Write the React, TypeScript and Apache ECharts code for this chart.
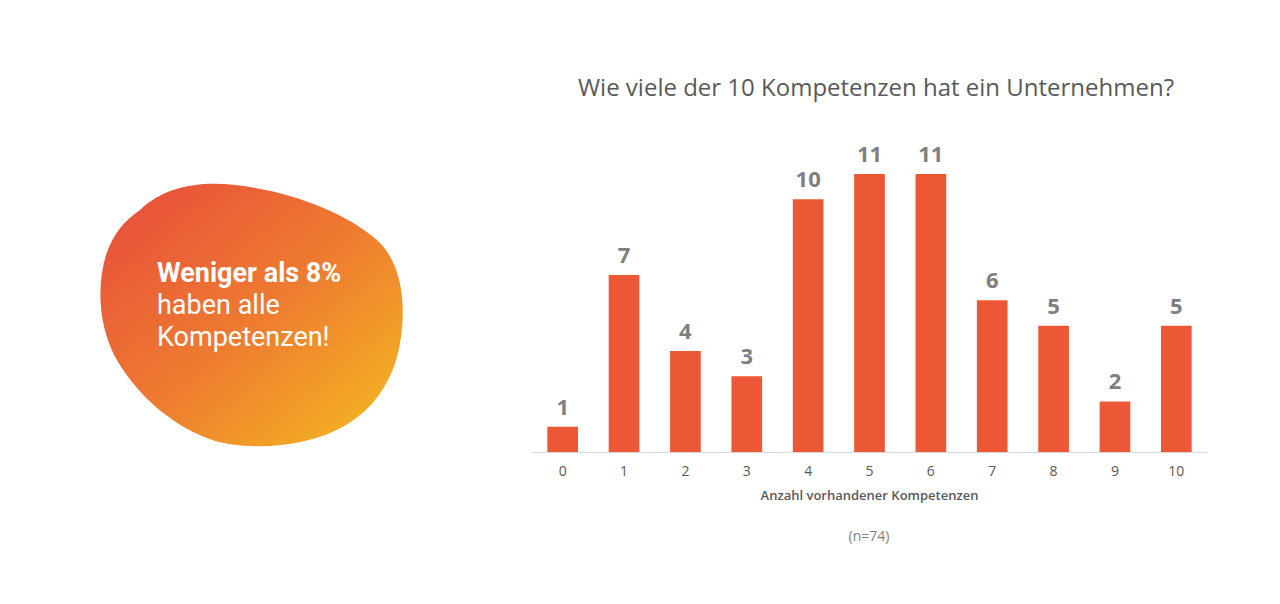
import React, { useEffect, useRef } from "react";
import * as echarts from "echarts";

const categories = ["0", "1", "2", "3", "4", "5", "6", "7", "8", "9", "10"];
const counts = [1, 7, 4, 3, 10, 11, 11, 6, 5, 2, 5];
const titleText = "Wie viele der 10 Kompetenzen hat ein Unternehmen?";
const axisName = "Anzahl vorhandener Kompetenzen";
const sampleNote = "(n=74)";
const blobLines = ["Weniger als 8%", "haben alle", "Kompetenzen!"];

const BLOB_D =
  "M 140 210 C 165 186 200 181 235 185 C 290 191 345 212 377 240 C 401 262 406 300 401 337 C 394 390 362 428 305 441 C 270 449 238 447 215 441 C 175 428 140 398 118 362 C 99 330 96 288 106 255 C 113 234 124 221 140 210 Z";

let registered = false;

export default function App() {
  const ref = useRef<HTMLDivElement>(null);
  useEffect(() => {
    if (!ref.current) return;
    if (!registered) {
      echarts.graphic.registerShape("blob", echarts.graphic.extendPath(BLOB_D, {}) as any);
      registered = true;
    }
    const chart = echarts.init(ref.current, null, { renderer: "svg" });
    const font = "'Open Sans', 'Noto Sans', sans-serif";
    const blobFont = "Roboto, 'Open Sans', sans-serif";
    chart.setOption({
      animation: false,
      textStyle: { fontFamily: font },
      title: {
        text: titleText,
        left: 871,
        top: 69,
        textAlign: "center",
        textStyle: { fontSize: 24, fontWeight: "normal", color: "#595959", fontFamily: font },
      },
      grid: { left: 532, right: 73, top: 174, bottom: 152, containLabel: false },
      xAxis: {
        type: "category",
        data: categories,
        axisLine: { lineStyle: { color: "#d9d9d9", width: 1 } },
        axisTick: { show: false },
        axisLabel: { color: "#595959", fontSize: 14, margin: 11, fontFamily: font },
        name: axisName,
        nameLocation: "middle",
        nameGap: 36,
        nameTextStyle: { color: "#595959", fontSize: 13, fontWeight: 600, fontFamily: font },
      },
      yAxis: {
        type: "value",
        min: 0,
        max: 11,
        show: false,
        splitLine: { show: false },
      },
      series: [
        {
          type: "bar",
          data: counts,
          barWidth: "50%",
          itemStyle: { color: "#EC5836" },
          label: {
            show: true,
            position: "top",
            distance: 10,
            color: "#7f7f7f",
            fontSize: 22,
            fontWeight: "bold",
            fontFamily: font,
          },
        },
      ],
      graphic: [
        {
          type: "blob",
          x: 0,
          y: 0,
          style: {
            fill: new echarts.graphic.LinearGradient(0.1, 0.1, 0.95, 0.95, [
              { offset: 0, color: "#E8533A" },
              { offset: 0.5, color: "#EE7D30" },
              { offset: 1, color: "#F4B622" },
            ]),
          },
        },
        {
          type: "text",
          x: 157,
          y: 273,
          style: { text: blobLines[0], fill: "#ffffff", fontSize: 27, fontWeight: "bold", fontFamily: blobFont, textVerticalAlign: "middle" },
        },
        {
          type: "text",
          x: 157,
          y: 305,
          style: { text: blobLines[1], fill: "#ffffff", fontSize: 27, fontFamily: blobFont, textVerticalAlign: "middle" },
        },
        {
          type: "text",
          x: 157,
          y: 337,
          style: { text: blobLines[2], fill: "#ffffff", fontSize: 27, fontFamily: blobFont, textVerticalAlign: "middle" },
        },
        {
          type: "text",
          x: 869,
          y: 535,
          style: {
            text: sampleNote,
            fill: "#7f7f7f",
            fontSize: 14,
            fontFamily: font,
            textAlign: "center",
            textVerticalAlign: "middle",
          },
        },
      ],
    });
    return () => chart.dispose();
  }, []);
  return (
    <div
      ref={ref}
      style={{ position: "fixed", left: 0, top: 0, width: 1280, height: 604, background: "#ffffff" }}
    />
  );
}
